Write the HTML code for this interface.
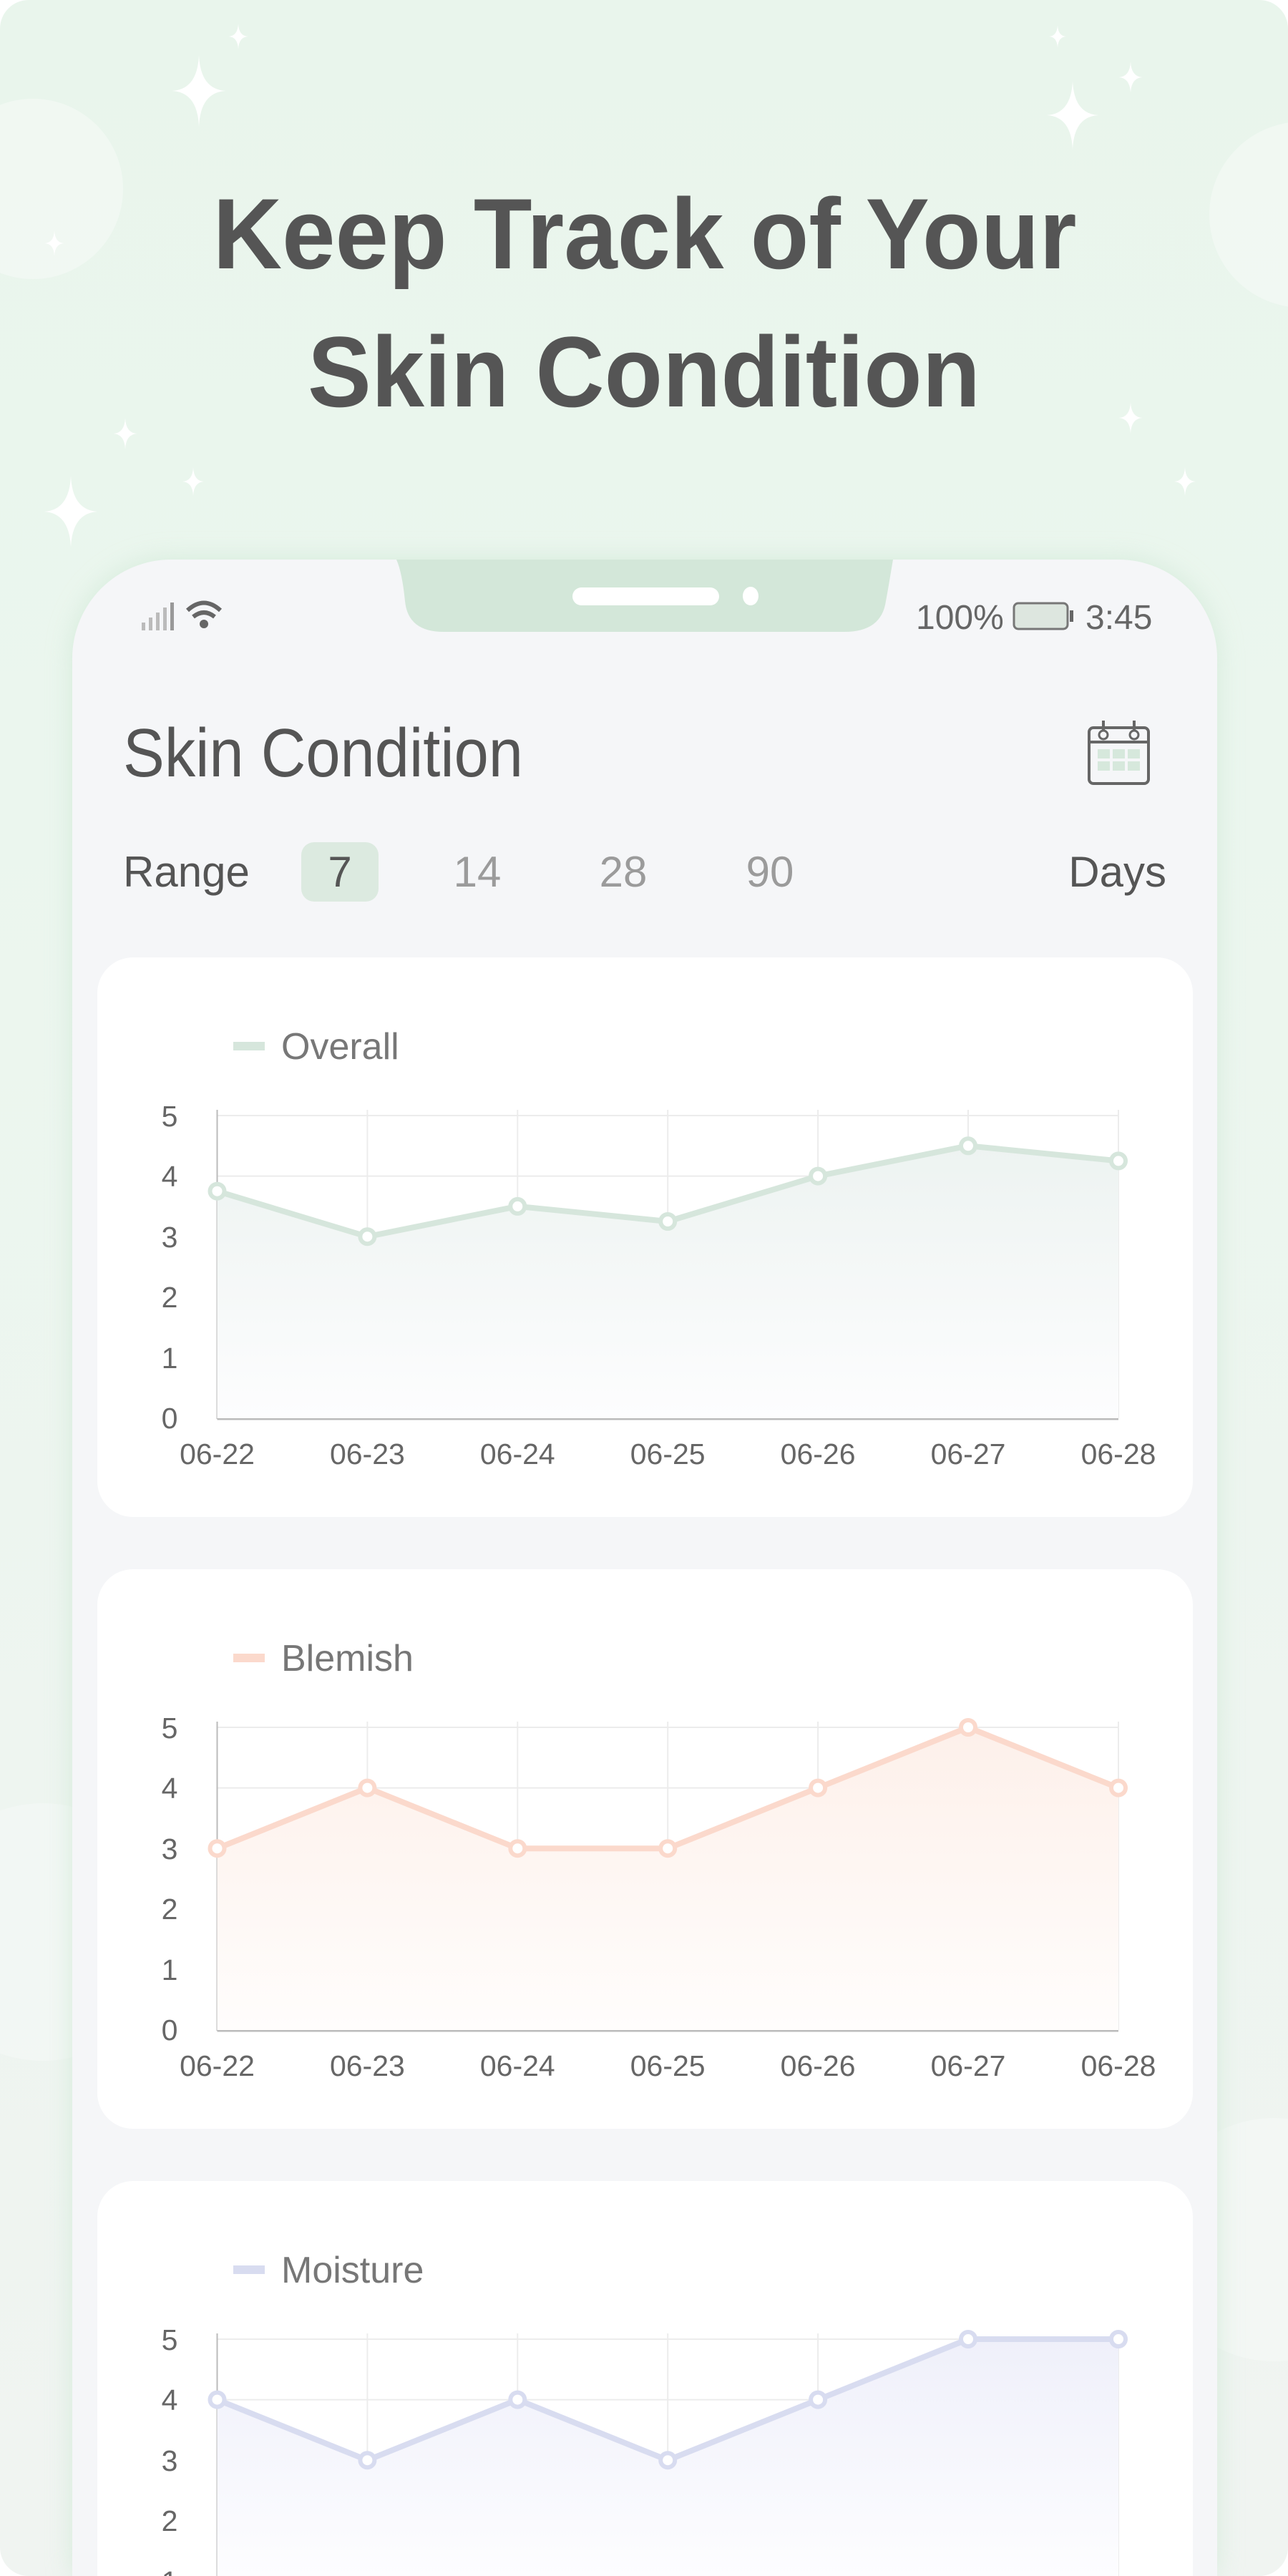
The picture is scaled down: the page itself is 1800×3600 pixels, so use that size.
<!DOCTYPE html>
<html><head><meta charset="utf-8"><style>
html,body{margin:0;padding:0;width:1800px;height:3600px;overflow:hidden;background:#fff}
svg{display:block}
text{font-family:"Liberation Sans",sans-serif}
</style></head><body>
<svg width="1800" height="3600" viewBox="0 0 1800 3600" xmlns="http://www.w3.org/2000/svg">
<defs>
<linearGradient id="bg" x1="0" y1="0" x2="0" y2="1">
<stop offset="0" stop-color="#e9f5ec"/><stop offset="0.3" stop-color="#ebf6ee"/><stop offset="1" stop-color="#f0f4f1"/>
</linearGradient>
<linearGradient id="gO" x1="0" y1="0" x2="0" y2="1"><stop offset="0" stop-color="#edf3f1"/><stop offset="1" stop-color="#fdfdfe"/></linearGradient>
<linearGradient id="gB" x1="0" y1="0" x2="0" y2="1"><stop offset="0" stop-color="#fdf0ea"/><stop offset="1" stop-color="#fffdfc"/></linearGradient>
<linearGradient id="gM" x1="0" y1="0" x2="0" y2="1"><stop offset="0" stop-color="#eff0fa"/><stop offset="1" stop-color="#fdfdff"/></linearGradient>
<filter id="sh" x="-10%" y="-10%" width="120%" height="120%"><feGaussianBlur stdDeviation="18"/></filter>
<path id="st" d="M0,-1 Q0.04,-0.04 0.75,0 Q0.04,0.04 0,1 Q-0.04,0.04 -0.75,0 Q-0.04,-0.04 0,-1Z" fill="#fff"/>
</defs>
<rect x="0" y="0" width="1800" height="3600" rx="40" fill="url(#bg)"/>
<circle cx="46" cy="264" r="126" fill="#f3faf5" opacity="0.7"/>
<circle cx="1820" cy="300" r="130" fill="#f3faf5" opacity="0.7"/>
<circle cx="60" cy="2700" r="180" fill="#f5f8f6" opacity="0.6"/>
<circle cx="1780" cy="3130" r="170" fill="#f5f8f6" opacity="0.6"/>
<use href="#st" transform="translate(278,127) scale(50,50)"/>
<use href="#st" transform="translate(333,51) scale(18,18)"/>
<use href="#st" transform="translate(76,340) scale(18,18)"/>
<use href="#st" transform="translate(175,606) scale(22,22)"/>
<use href="#st" transform="translate(270,673) scale(20,20)"/>
<use href="#st" transform="translate(99,715) scale(50,50)"/>
<use href="#st" transform="translate(1478,51) scale(16,16)"/>
<use href="#st" transform="translate(1580,108) scale(22,22)"/>
<use href="#st" transform="translate(1499,161) scale(48,48)"/>
<use href="#st" transform="translate(1580,584) scale(22,22)"/>
<use href="#st" transform="translate(1656,673) scale(20,20)"/>
<text x="901" y="375" font-size="140" font-weight="bold" fill="#555" text-anchor="middle" textLength="1207" lengthAdjust="spacingAndGlyphs">Keep Track of Your</text>
<text x="900" y="568" font-size="140" font-weight="bold" fill="#555" text-anchor="middle" textLength="940" lengthAdjust="spacingAndGlyphs">Skin Condition</text>
<path d="M101,3600 L101,920 A138,138 0 0 1 239,782 L1563,782 A138,138 0 0 1 1701,920 L1701,3600Z" fill="#cfe8d6" filter="url(#sh)" opacity="0.8"/>
<path d="M101,3600 L101,920 A138,138 0 0 1 239,782 L1563,782 A138,138 0 0 1 1701,920 L1701,3600Z" fill="#f5f6f8"/>
<path d="M554,782 L1248,782 Q1240,830 1238,840 Q1232,883 1180,883 L620,883 Q570,883 566,840 Q562,800 554,782Z" fill="#d3e7d9"/>
<rect x="800" y="821" width="205" height="25" rx="12.5" fill="#fff"/>
<ellipse cx="1049" cy="833" rx="11" ry="13" fill="#fff"/>
<g fill="#bbb"><rect x="198" y="870" width="5" height="11"/><rect x="208" y="863" width="5" height="18"/><rect x="218" y="856" width="5" height="25"/><rect x="228" y="849" width="5" height="32"/><rect x="238" y="842" width="5" height="39" fill="#999"/></g>
<g fill="none" stroke="#666" stroke-width="6"><path d="M262,853 Q285,832 308,853"/><path d="M270,862 Q285,850 300,862"/></g>
<circle cx="285" cy="872" r="6" fill="#666"/>
<text x="1280" y="879" font-size="48" fill="#666">100%</text>
<rect x="1417" y="843" width="75" height="36" rx="6" fill="#dde6df" stroke="#777" stroke-width="3"/>
<rect x="1495" y="853" width="5" height="16" fill="#666"/>
<text x="1517" y="879" font-size="48" fill="#666">3:45</text>
<text x="172" y="1085" font-size="96" fill="#555" textLength="559" lengthAdjust="spacingAndGlyphs">Skin Condition</text>
<g transform="translate(1520,1007)">
<rect x="2" y="10" width="83" height="78" rx="6" fill="none" stroke="#666" stroke-width="4"/>
<line x1="2" y1="30" x2="85" y2="30" stroke="#666" stroke-width="4"/>
<circle cx="22" cy="20" r="6" fill="#f5f6f8" stroke="#666" stroke-width="3"/><circle cx="65" cy="20" r="6" fill="#f5f6f8" stroke="#666" stroke-width="3"/>
<line x1="22" y1="0" x2="22" y2="14" stroke="#666" stroke-width="4"/><line x1="65" y1="0" x2="65" y2="14" stroke="#666" stroke-width="4"/>
<g fill="#d6e8dc"><rect x="14" y="40" width="17" height="13"/><rect x="35" y="40" width="17" height="13"/><rect x="56" y="40" width="17" height="13"/><rect x="14" y="57" width="17" height="13"/><rect x="35" y="57" width="17" height="13"/><rect x="56" y="57" width="17" height="13"/></g>
</g>
<text x="172" y="1239" font-size="60" fill="#555">Range</text>
<rect x="421" y="1177" width="108" height="83" rx="18" fill="#dceae0"/>
<text x="475" y="1239" font-size="60" fill="#555" text-anchor="middle">7</text>
<text x="667" y="1239" font-size="60" fill="#9b9b9b" text-anchor="middle">14</text>
<text x="871" y="1239" font-size="60" fill="#9b9b9b" text-anchor="middle">28</text>
<text x="1076" y="1239" font-size="60" fill="#9b9b9b" text-anchor="middle">90</text>
<text x="1630" y="1239" font-size="60" fill="#555" text-anchor="end">Days</text>
<rect x="136" y="1338" width="1531" height="782" rx="50" fill="#fff"/>
<rect x="136" y="2193" width="1531" height="782" rx="50" fill="#fff"/>
<path d="M136,3600 L136,3098 A50,50 0 0 1 186,3048 L1617,3048 A50,50 0 0 1 1667,3098 L1667,3600Z" fill="#fff"/>
<g id="grid">
<g stroke="#ececec" stroke-width="2">
<line x1="303.5" y1="1559" x2="1563" y2="1559"/><line x1="303.5" y1="1643.6" x2="1563" y2="1643.6"/><line x1="303.5" y1="1728.2" x2="1563" y2="1728.2"/><line x1="303.5" y1="1812.8" x2="1563" y2="1812.8"/><line x1="303.5" y1="1897.4" x2="1563" y2="1897.4"/>
<line x1="513.4" y1="1551" x2="513.4" y2="1982"/><line x1="723.3" y1="1551" x2="723.3" y2="1982"/><line x1="933.2" y1="1551" x2="933.2" y2="1982"/><line x1="1143.1" y1="1551" x2="1143.1" y2="1982"/><line x1="1353" y1="1551" x2="1353" y2="1982"/><line x1="1563" y1="1551" x2="1563" y2="1982"/>
</g>
<line x1="303.5" y1="1551" x2="303.5" y2="1983" stroke="#bbb" stroke-width="2"/>
<line x1="303.5" y1="1983" x2="1563" y2="1983" stroke="#bbb" stroke-width="3"/>
<g font-size="41" fill="#666" text-anchor="middle">
<text x="237" y="1574">5</text><text x="237" y="1658">4</text><text x="237" y="1743">3</text><text x="237" y="1827">2</text><text x="237" y="1912">1</text><text x="237" y="1996">0</text>
<text x="303.5" y="2046">06-22</text><text x="513.4" y="2046">06-23</text><text x="723.3" y="2046">06-24</text><text x="933.2" y="2046">06-25</text><text x="1143.1" y="2046">06-26</text><text x="1353" y="2046">06-27</text><text x="1563" y="2046">06-28</text>
</g>
</g>
<use href="#grid" transform="translate(0,855)"/>
<g clip-path="url(#cb)"><use href="#grid" transform="translate(0,1710)"/></g>
<clipPath id="cb"><rect x="0" y="0" width="1800" height="3600"/></clipPath>
<rect x="326" y="1456" width="44" height="12" fill="#d6e6dc"/>
<text x="393" y="1480" font-size="52" fill="#777">Overall</text>
<polygon points="303.5,1664.7 513.4,1728.2 723.3,1685.9 933.2,1707 1143.1,1643.6 1353,1601.3 1563,1622.4 1563,1982 303.5,1982" fill="url(#gO)"/>
<polyline points="303.5,1664.7 513.4,1728.2 723.3,1685.9 933.2,1707 1143.1,1643.6 1353,1601.3 1563,1622.4" fill="none" stroke="#d6e6dc" stroke-width="8" stroke-linejoin="round"/>
<g fill="#fff" stroke="#d6e6dc" stroke-width="6">
<circle cx="303.5" cy="1664.7" r="10"/><circle cx="513.4" cy="1728.2" r="10"/><circle cx="723.3" cy="1685.9" r="10"/><circle cx="933.2" cy="1707" r="10"/><circle cx="1143.1" cy="1643.6" r="10"/><circle cx="1353" cy="1601.3" r="10"/><circle cx="1563" cy="1622.4" r="10"/>
</g>
<rect x="326" y="2311" width="44" height="12" fill="#fbd9cc"/>
<text x="393" y="2335" font-size="52" fill="#777">Blemish</text>
<polygon points="303.5,2583.2 513.4,2498.6 723.3,2583.2 933.2,2583.2 1143.1,2498.6 1353,2414 1563,2498.6 1563,2837 303.5,2837" fill="url(#gB)"/>
<polyline points="303.5,2583.2 513.4,2498.6 723.3,2583.2 933.2,2583.2 1143.1,2498.6 1353,2414 1563,2498.6" fill="none" stroke="#fbd9cc" stroke-width="8" stroke-linejoin="round"/>
<g fill="#fff" stroke="#fbd9cc" stroke-width="6">
<circle cx="303.5" cy="2583.2" r="10"/><circle cx="513.4" cy="2498.6" r="10"/><circle cx="723.3" cy="2583.2" r="10"/><circle cx="933.2" cy="2583.2" r="10"/><circle cx="1143.1" cy="2498.6" r="10"/><circle cx="1353" cy="2414" r="10"/><circle cx="1563" cy="2498.6" r="10"/>
</g>
<rect x="326" y="3166" width="44" height="12" fill="#d8dcf0"/>
<text x="393" y="3190" font-size="52" fill="#777">Moisture</text>
<polygon points="303.5,3353.6 513.4,3438.2 723.3,3353.6 933.2,3438.2 1143.1,3353.6 1353,3269 1563,3269 1563,3600 303.5,3600" fill="url(#gM)"/>
<polyline points="303.5,3353.6 513.4,3438.2 723.3,3353.6 933.2,3438.2 1143.1,3353.6 1353,3269 1563,3269" fill="none" stroke="#d8dcf0" stroke-width="8" stroke-linejoin="round"/>
<g fill="#fff" stroke="#d8dcf0" stroke-width="6">
<circle cx="303.5" cy="3353.6" r="10"/><circle cx="513.4" cy="3438.2" r="10"/><circle cx="723.3" cy="3353.6" r="10"/><circle cx="933.2" cy="3438.2" r="10"/><circle cx="1143.1" cy="3353.6" r="10"/><circle cx="1353" cy="3269" r="10"/><circle cx="1563" cy="3269" r="10"/>
</g>
</svg>
</body></html>
